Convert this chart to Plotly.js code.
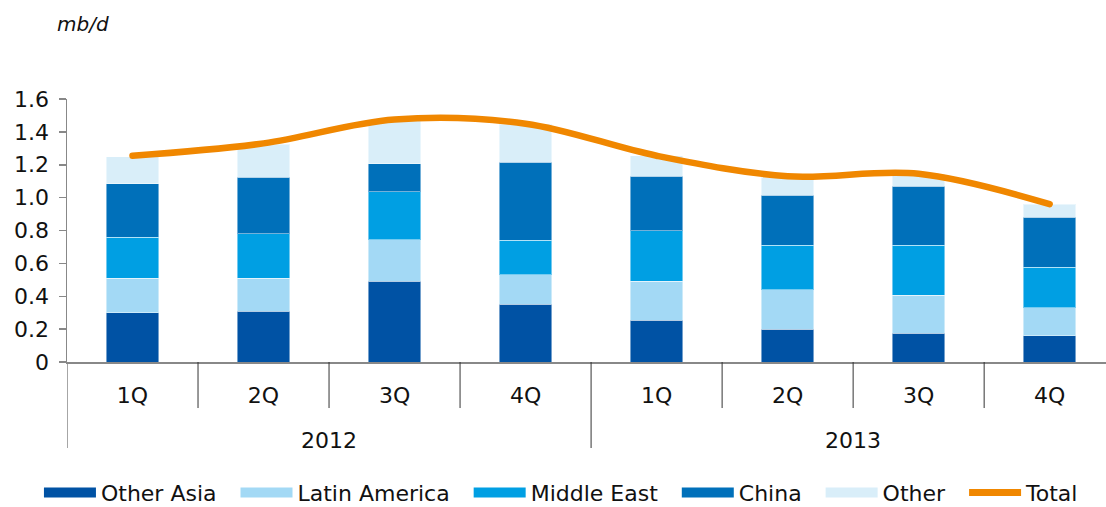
<!DOCTYPE html>
<html>
<head>
<meta charset="utf-8">
<script src="https://cdn.plot.ly/plotly-3.0.1.min.js"></script>
<style>
html,body{margin:0;padding:0;background:#fff;}
#chart{width:1106px;height:507px;}
.scatterlayer .js-line{stroke-linecap:round;}
</style>
</head>
<body>
<div id="chart"></div>
<script>
// ---- data ----
var years = ['2012','2012','2012','2012','2013','2013','2013','2013'];
var quarters = ['1Q','2Q','3Q','4Q','1Q','2Q','3Q','4Q'];
var otherAsia = [0.30, 0.31, 0.49, 0.35, 0.255, 0.20, 0.175, 0.16];
var latinAmerica = [0.21, 0.20, 0.255, 0.18, 0.235, 0.24, 0.23, 0.17];
var middleEast = [0.25, 0.27, 0.29, 0.21, 0.31, 0.27, 0.305, 0.245];
var china = [0.325, 0.345, 0.17, 0.475, 0.33, 0.305, 0.36, 0.305];
var other = [0.165, 0.20, 0.265, 0.23, 0.125, 0.11, 0.075, 0.08];
var total = [1.255, 1.33, 1.475, 1.45, 1.255, 1.13, 1.145, 0.96];
var yTickVals = [0, 0.2, 0.4, 0.6, 0.8, 1.0, 1.2, 1.4, 1.6];
var yTickText = ['0','0.2','0.4','0.6','0.8','1.0','1.2','1.4','1.6'];
var yearLabels = ['2012','2013'];

// ---- build ----
var cats = years.map(function(y,i){ return y + ' ' + quarters[i]; });
var FONT = 'DejaVu Sans, sans-serif';
var PAD = '\u00a0\u00a0';
var series = [
  {name:'Other Asia', y:otherAsia, color:'#0052A4'},
  {name:'Latin America', y:latinAmerica, color:'#A3D9F5'},
  {name:'Middle East', y:middleEast, color:'#009FE3'},
  {name:'China', y:china, color:'#0070BA'},
  {name:'Other', y:other, color:'#D9EEF9'}
];
var traces = [];
series.forEach(function(s){
  traces.push({type:'bar', x:cats, y:s.y, name:s.name, width:0.4,
    marker:{color:s.color, line:{color:'rgba(255,255,255,0.45)', width:1}},
    showlegend:false, hoverinfo:'skip'});
});
traces.push({type:'scatter', mode:'lines', x:cats, y:total, name:'Total',
  line:{color:'#F08700', width:6.5, shape:'spline', smoothing:1},
  showlegend:false, hoverinfo:'skip'});
// legend entries
series.forEach(function(s){
  traces.push({type:'scatter', mode:'lines', x:[null], y:[null], name:s.name + PAD,
    line:{color:s.color, width:13}, hoverinfo:'skip'});
});
traces.push({type:'scatter', mode:'lines', x:[null], y:[null], name:'Total',
  line:{color:'#F08700', width:7}, hoverinfo:'skip'});

// separators between quarters (category boundaries)
var shapes = [];
for (var i = 0; i < cats.length - 1; i++) {
  var b = i + 0.5;
  var isYear = years[i] !== years[i+1];
  shapes.push({type:'line', xref:'x', yref:'paper', x0:b, x1:b, y0:0,
    y1: isYear ? -0.327 : -0.175, line:{color:'#333', width:1}});
}
shapes.push({type:'line', xref:'x', yref:'paper', x0:-0.5, x1:-0.5, y0:0, y1:-0.327,
  line:{color:'#888', width:1.5}});

var annotations = [];
yearLabels.forEach(function(yr){
  var idx = [];
  years.forEach(function(y,i){ if (y === yr) idx.push(i); });
  var mid = (idx[0] + idx[idx.length-1]) / 2;
  annotations.push({xref:'x', yref:'paper', x:mid, y:-0.297, text:yr, showarrow:false,
    xanchor:'center', yanchor:'middle', font:{family:FONT, size:22, color:'#111'}});
});
annotations.push({xref:'paper', yref:'paper', x:-0.012, y:1.285, text:'<i>mb/d</i>',
  showarrow:false, xanchor:'left', yanchor:'middle', font:{family:FONT, size:20, color:'#111'}});

var layout = {
  width:1106, height:507,
  margin:{l:67, r:0, t:99, b:145, autoexpand:false},
  barmode:'stack', bargap:0.6,
  paper_bgcolor:'#fff', plot_bgcolor:'#fff',
  font:{family:FONT, size:22, color:'#111'},
  showlegend:true,
  legend:{orientation:'h', traceorder:'normal', x:-0.027, xanchor:'left', y:-0.497, yanchor:'middle',
    itemwidth:52, font:{family:FONT, size:22, color:'#111'}, tracegroupgap:0,
    bgcolor:'rgba(0,0,0,0)'},
  xaxis:{type:'category', categoryorder:'array', categoryarray:cats,
    range:[-0.5, 7.43], tickvals:cats, ticktext:quarters,
    ticks:'outside', ticklen:13, tickcolor:'rgba(0,0,0,0)',
    showline:true, linecolor:'#888', linewidth:2, showgrid:false, zeroline:false,
    tickfont:{family:FONT, size:22, color:'#111'}, fixedrange:true},
  yaxis:{range:[0,1.6], tickvals:yTickVals, ticktext:yTickText,
    ticks:'outside', ticklen:7, tickcolor:'#888', tickwidth:1.5, ticklabelstandoff:5,
    showline:true, linecolor:'#888', linewidth:1.5, showgrid:false, zeroline:false,
    tickfont:{family:FONT, size:22, color:'#111'}, fixedrange:true},
  shapes:shapes, annotations:annotations, hovermode:false
};
Plotly.newPlot('chart', traces, layout, {displayModeBar:false, staticPlot:true});
</script>
</body>
</html>
